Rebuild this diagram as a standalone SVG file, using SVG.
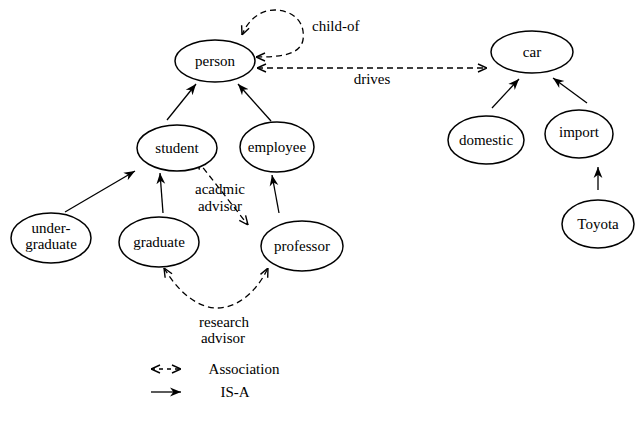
<svg xmlns="http://www.w3.org/2000/svg" width="642" height="429" viewBox="0 0 642 429">
<style>
.n{fill:#fff;stroke:#000;stroke-width:1.5}
.t{font-family:"Liberation Serif","Times New Roman",serif;font-size:15px;fill:#000;text-anchor:middle}
.isa{fill:none;stroke:#000;stroke-width:1.3;marker-end:url(#ah)}
.as{fill:none;stroke:#000;stroke-width:1.3;stroke-dasharray:6 4;marker-end:url(#oh);marker-start:url(#osh)}
</style>
<defs>
<marker id="ah" viewBox="0 0 10 10" refX="10" refY="5" markerWidth="11" markerHeight="11" markerUnits="userSpaceOnUse" orient="auto"><path d="M0,1 L10,5 L0,9 L3,5 Z" fill="#000"/></marker>
<marker id="oh" viewBox="0 0 10 10" refX="10" refY="5" markerWidth="10" markerHeight="10" markerUnits="userSpaceOnUse" orient="auto"><path d="M1,1 L10,5 L1,9" fill="none" stroke="#000" stroke-width="1.4"/></marker>
<marker id="osh" viewBox="0 0 10 10" refX="0" refY="5" markerWidth="10" markerHeight="10" markerUnits="userSpaceOnUse" orient="auto"><path d="M9,1 L0,5 L9,9" fill="none" stroke="#000" stroke-width="1.4"/></marker>
</defs>
<g id="connectors">
<path class="isa" d="M167,120 L196,84"/>
<path class="isa" d="M271,121 L238,84"/>
<path class="isa" d="M65,212 L135,171"/>
<path class="isa" d="M163,213 L160,173"/>
<path class="isa" d="M279,213 L272,175"/>
<path class="isa" d="M492,108 L519,79"/>
<path class="isa" d="M587,103 L553,78"/>
<path class="isa" d="M598,190 L598,167"/>
<path class="as" d="M197,160 L248,225"/>
<path class="as" d="M164,268 C180,295 200,308 217,308 C235,308 255,295 268,268"/>
<path class="as" d="M256,57 C280,57 300,55 303,40 C306,18 288,10 275,10 C260,10 248,20 242,35"/>
<path class="as" d="M257,68 L487,68"/>
<text class="t" x="312" y="31" style="text-anchor:start">child-of</text>
<text class="t" x="372" y="84">drives</text>
<text class="t" x="220" y="194">acadmic</text>
<text class="t" x="220" y="211">advisor</text>
<text class="t" x="224" y="327">research</text>
<text class="t" x="223" y="343">advisor</text>
</g>
<g id="person"><ellipse class="n" cx="215" cy="61" rx="40" ry="21"/><text class="t" x="215" y="66">person</text></g>
<g id="car"><ellipse class="n" cx="532" cy="52" rx="41" ry="21"/><text class="t" x="532" y="57">car</text></g>
<g id="student"><ellipse class="n" cx="177" cy="148" rx="40" ry="23"/><text class="t" x="177" y="153">student</text></g>
<g id="employee"><ellipse class="n" cx="277" cy="147" rx="37" ry="25"/><text class="t" x="277" y="152">employee</text></g>
<g id="domestic"><ellipse class="n" cx="486" cy="140" rx="38" ry="24"/><text class="t" x="486" y="145">domestic</text></g>
<g id="import"><ellipse class="n" cx="579" cy="134" rx="34" ry="24"/><text class="t" x="579" y="137">import</text></g>
<g id="toyota"><ellipse class="n" cx="598" cy="224" rx="36" ry="24"/><text class="t" x="598" y="229">Toyota</text></g>
<g id="undergraduate"><ellipse class="n" cx="51" cy="238" rx="40" ry="25"/><text class="t" x="51" y="233">under-</text><text class="t" x="51" y="249">graduate</text></g>
<g id="graduate"><ellipse class="n" cx="159" cy="242" rx="40" ry="25"/><text class="t" x="159" y="247">graduate</text></g>
<g id="professor"><ellipse class="n" cx="302" cy="246" rx="41" ry="25"/><text class="t" x="302" y="251">professor</text></g>
<g id="legend">
<path class="as" d="M151,369 L181,369" style="stroke-dasharray:4 4"/>
<path class="isa" d="M151,392 L181,392"/>
<text class="t" x="244" y="374">Association</text>
<text class="t" x="235" y="397">IS-A</text>
</g>
</svg>
